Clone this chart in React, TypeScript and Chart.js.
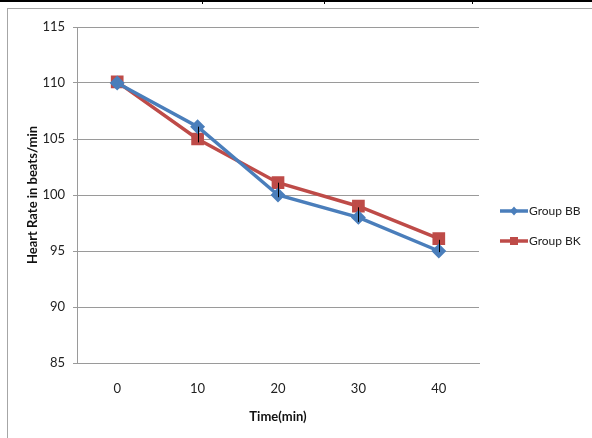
import React, { useEffect, useRef } from "react";
import { Chart, registerables } from "chart.js";

Chart.register(...registerables);

const categories = ["0", "10", "20", "30", "40"];
const groupBB = [110, 106.1, 100, 98, 95];
const groupBK = [110.1, 105, 101.1, 99, 96.1];
const errTop = [null, 106.1, 101.1, 98.9, 96];
const errBottom = [null, 104.7, 99.8, 97.6, 94.9];
const yTicks = [85, 90, 95, 100, 105, 110, 115];

const FONT = "Lato, 'Open Sans', sans-serif";

const errorBarPlugin = {
  id: "errorBars",
  afterDatasetsDraw(chart: any) {
    const { ctx, scales } = chart;
    const x = scales.x;
    const y = scales.y;
    ctx.save();
    ctx.strokeStyle = "#000";
    ctx.lineWidth = 1;
    for (let i = 0; i < categories.length; i++) {
      const t = errTop[i];
      const b = errBottom[i];
      if (t == null || b == null) continue;
      const px = Math.round(x.getPixelForValue(i)) + 0.5;
      ctx.beginPath();
      ctx.moveTo(px, y.getPixelForValue(t));
      ctx.lineTo(px, y.getPixelForValue(b));
      ctx.stroke();
    }
    ctx.restore();
  },
};

const legendPlugin = {
  id: "customLegend",
  afterDraw(chart: any) {
    const { ctx } = chart;
    const items = chart.data.datasets;
    const x0 = 500;
    const x1 = 528;
    const ys = [211, 241];
    ctx.save();
    items.forEach((ds: any, i: number) => {
      const y = ys[i];
      ctx.strokeStyle = ds.borderColor;
      ctx.lineWidth = 3.5;
      ctx.beginPath();
      ctx.moveTo(x0, y);
      ctx.lineTo(x1, y);
      ctx.stroke();
      ctx.fillStyle = ds.pointBackgroundColor;
      const cx = (x0 + x1) / 2;
      if (ds.pointStyle === "rect") {
        ctx.fillRect(cx - 4, y - 4, 8, 8);
      } else {
        ctx.beginPath();
        ctx.moveTo(cx, y - 4.5);
        ctx.lineTo(cx + 4, y);
        ctx.lineTo(cx, y + 4.5);
        ctx.lineTo(cx - 4, y);
        ctx.closePath();
        ctx.fill();
      }
      ctx.fillStyle = "#222";
      ctx.font = `12px ${FONT}`;
      ctx.textBaseline = "middle";
      ctx.textAlign = "left";
      ctx.fillText(ds.label, x1 + 1, y);
    });
    ctx.restore();
  },
};

export default function App() {
  const ref = useRef<HTMLCanvasElement>(null);
  useEffect(() => {
    if (!ref.current) return;
    const chart = new Chart(ref.current, {
      type: "line",
      data: {
        labels: categories,
        datasets: [
          {
            label: "Group BB",
            data: groupBB,
            borderColor: "#4A7EBB",
            backgroundColor: "#4A7EBB",
            pointBackgroundColor: "#4A7EBB",
            pointBorderColor: "#4A7EBB",
            pointStyle: "rectRot",
            pointRadius: 5,
            borderWidth: 3.5,
            tension: 0,
          },
          {
            label: "Group BK",
            data: groupBK,
            borderColor: "#BE4B48",
            backgroundColor: "#BE4B48",
            pointBackgroundColor: "#BE4B48",
            pointBorderColor: "#BE4B48",
            pointStyle: "rect",
            pointRadius: 6.5,
            borderWidth: 3.5,
            tension: 0,
          },
        ],
      },
      options: {
        animation: false,
        responsive: false,
        maintainAspectRatio: false,
        layout: { padding: { left: 0, top: 27, right: 113, bottom: 0 } },
        plugins: {
          legend: { display: false },
          tooltip: { enabled: false },
        },
        scales: {
          x: {
            offset: true,
            afterFit: (s: any) => {
              s.height = 75;
            },
            grid: { display: false, drawTicks: false, offset: true },
            border: { display: true, color: "#9a9a9a", width: 1 },
            ticks: {
              padding: 18,
              color: "#222",
              font: { family: FONT, size: 13 },
            },
            title: {
              display: true,
              text: "Time(min)",
              color: "#111",
              font: { family: FONT, size: 13, weight: "bold" },
              padding: { top: 0, bottom: 13 },
            },
          },
          y: {
            min: 85,
            max: 115,
            afterFit: (s: any) => {
              s.width = 77;
            },
            afterBuildTicks: (s: any) => {
              s.ticks = yTicks.map((v) => ({ value: v }));
            },
            grid: {
              color: "#9a9a9a",
              lineWidth: 1,
              tickLength: 4,
              drawTicks: true,
            },
            border: { display: true, color: "#9a9a9a", width: 1 },
            ticks: {
              padding: 8,
              color: "#222",
              font: { family: FONT, size: 13 },
            },
            title: {
              display: true,
              text: "Heart Rate in beats/min",
              color: "#111",
              font: { family: FONT, size: 13, weight: "bold" },
              padding: { top: 25, bottom: 0 },
            },
          },
        },
      },
      plugins: [errorBarPlugin, legendPlugin],
    });
    return () => chart.destroy();
  }, []);

  return (
    <div
      style={{
        position: "fixed",
        left: 0,
        top: 0,
        width: 592,
        height: 438,
        background: "#fff",
        overflow: "hidden",
      }}
    >
      <div style={{ position: "absolute", left: 0, top: 0, width: 592, height: 2, background: "#000" }} />
      {[202, 324, 472].map((x) => (
        <div key={x} style={{ position: "absolute", left: x, top: 0, width: 1, height: 4, background: "#000" }} />
      ))}
      <div
        style={{
          position: "absolute",
          left: 7,
          top: 8,
          width: 600,
          height: 440,
          borderLeft: "1px solid #a6a6a6",
          borderTop: "1px solid #a6a6a6",
        }}
      />
      <canvas ref={ref} width={592} height={438} style={{ position: "absolute", left: 0, top: 0, width: 592, height: 438 }} />
    </div>
  );
}
